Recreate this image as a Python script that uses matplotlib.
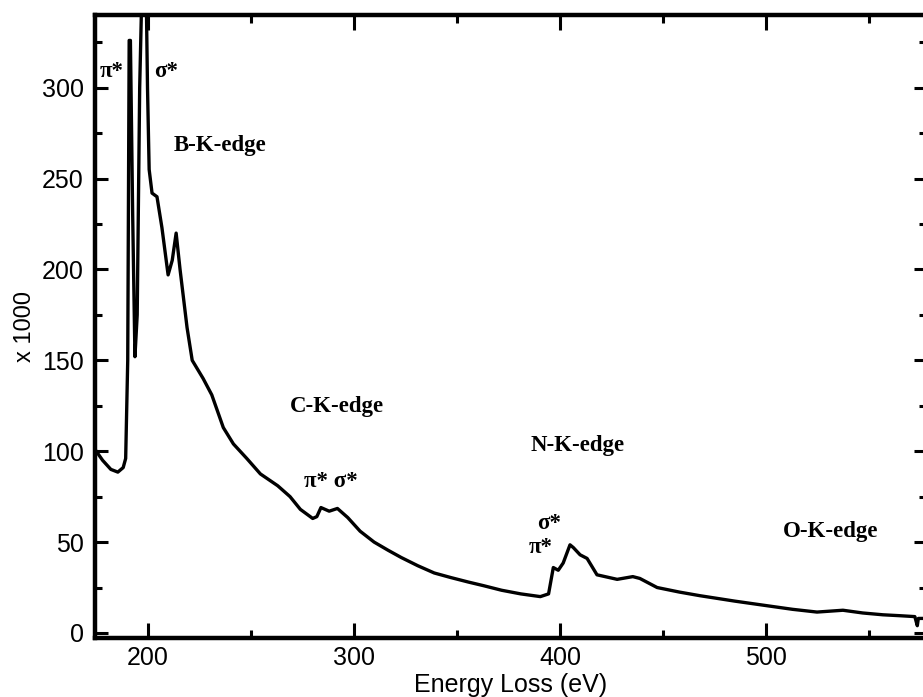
import matplotlib
matplotlib.use("Agg")
from matplotlib import pyplot as plt
from matplotlib.ticker import MultipleLocator

# EELS spectrum (energy loss in eV, counts x 1000)
energy = [174.3, 178, 182, 185.4, 188.0, 189.2, 190.2, 190.9, 191.5, 192.6, 193.7, 194.8,
          196.0, 197.0, 197.6, 198.4, 199.2, 199.8, 200.6, 202.0, 204.4, 206.8, 209.8, 211.8,
          213.7, 215.6, 219.0, 221.5, 226.8, 231.0, 236.6, 241.5, 248.0, 254.6, 263.0,
          269.0, 274.0, 280.0, 282.0, 284.0, 288.0, 292.0, 297.0, 303.0, 309.8, 316.6,
          323.0, 331.0, 339.0, 347.0, 355.6, 363.0, 371.7, 381.0, 390.5, 394.5, 396.8,
          399.2, 401.6, 404.9, 406.5, 409.8, 413.2, 418.0, 427.8, 435.4, 438.8, 447.2,
          458.0, 468.0, 485.0, 500.5, 513.0, 524.8, 537.4, 547.0, 556.8, 565.0, 572.3,
          573.5, 574.0, 577.7]
intensity = [101, 95, 90, 88.5, 91, 96, 150, 326, 326, 230, 152, 175,
             300, 350, 350, 350, 350, 300, 255, 242, 240, 223, 197, 205,
             220, 200, 168, 150, 140, 131, 113, 104, 96, 87.5, 81,
             75, 68, 63, 64, 69, 67, 68.5, 63.5, 56, 50, 45.5,
             41.5, 37, 33, 30.5, 28, 26, 23.5, 21.5, 20, 21.5, 36,
             34.5, 38.5, 48.5, 47, 43, 41, 32, 29.5, 31, 30, 25,
             22.5, 20.5, 17.5, 15, 13, 11.5, 12.5, 11, 10, 9.5, 9,
             4, 8, 8]

# peak / edge labels: (text, x, y)
labels = [("π*", 182.5, 309), ("σ*", 208.8, 309), ("B-K-edge", 235, 268),
          ("C-K-edge", 292, 124.5), ("π* σ*", 288.8, 83.5), ("N-K-edge", 408.5, 103),
          ("σ*", 395, 60), ("π*", 390.5, 47), ("O-K-edge", 531.5, 56)]

fig = plt.figure(figsize=(9.23, 6.97), dpi=100)
ax = fig.add_axes([0.1029, 0.0847, 0.9003, 0.8938])

ax.plot(energy, intensity, color="black", lw=2.4, solid_joinstyle="round")

for txt, x, y in labels:
    ax.text(x, y, txt, ha="center", va="center", fontsize=16.5, fontweight="bold",
            family="Liberation Serif")

ax.set_xlim(174.3, 577.7)
ax.set_ylim(-2.75, 340)
ax.xaxis.set_major_locator(MultipleLocator(100))
ax.xaxis.set_minor_locator(MultipleLocator(50))
ax.yaxis.set_major_locator(MultipleLocator(50))
ax.yaxis.set_minor_locator(MultipleLocator(25))

ax.tick_params(which="both", direction="in", top=True, right=True, width=2.2)
ax.tick_params(axis="x", which="major", length=11, pad=6)
ax.tick_params(axis="x", which="minor", length=6)
ax.tick_params(axis="y", which="major", length=9, pad=8)
ax.tick_params(axis="y", which="minor", length=5)
ax.tick_params(labelsize=18)
for lab in ax.get_xticklabels() + ax.get_yticklabels():
    lab.set_family("Liberation Sans")

for sp in ax.spines.values():
    sp.set_linewidth(3.2)

ax.set_xlabel("Energy Loss (eV)", fontsize=18, family="Liberation Sans", labelpad=2)
ax.set_ylabel("x 1000", fontsize=17, family="Liberation Sans", labelpad=4)

fig.savefig("out.png", dpi=100)
